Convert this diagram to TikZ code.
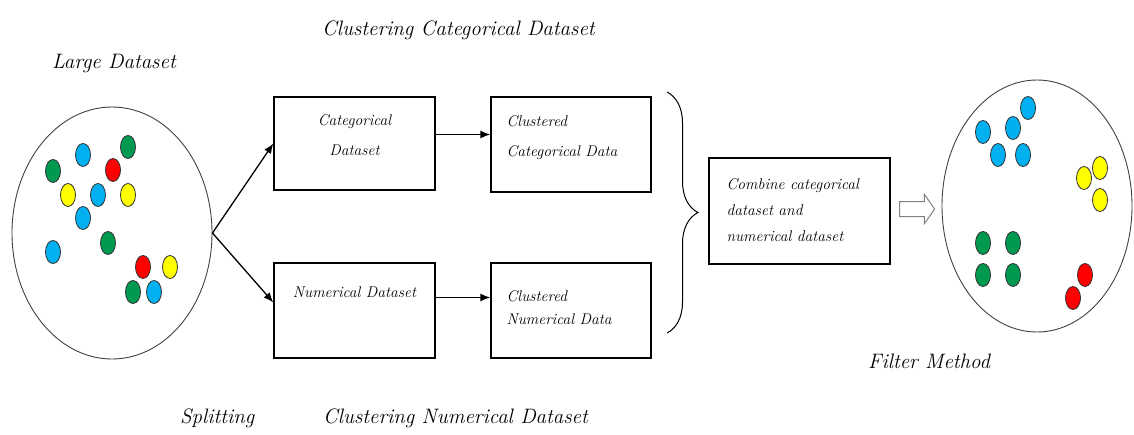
\documentclass[tikz,border=0pt]{standalone}
\usepackage{tikz}
\usetikzlibrary{positioning,shapes.geometric,shapes.arrows,arrows.meta,decorations.pathreplacing}
\definecolor{dot blue}{rgb}{0.0, 0.6902, 0.9412}
\definecolor{dot green}{rgb}{0.0, 0.6, 0.3137}
\definecolor{dot red}{rgb}{1.0, 0.0, 0.0}
\definecolor{dot yellow}{rgb}{1.0, 1.0, 0.0}
\definecolor{rim gray}{rgb}{0.25, 0.25, 0.25}
\tikzset{
  heading/.style = {font=\fontsize{20.9}{25}\selectfont\itshape, anchor=base west, inner sep=0},
  boxtext/.style = {font=\fontsize{15.5}{30}\selectfont\itshape, inner sep=0},
  panel/.style = {draw, line width=1.3pt, minimum width=161pt, minimum height=95pt, inner sep=0},
  pool/.style = {ellipse, draw=rim gray, line width=0.9pt, inner sep=0},
  dot/.style = {draw=black!80, line width=0.8pt},
  flow/.style = {-{Latex[length=10pt, width=8pt]}, line width=1.3pt},
}
\begin{document}
\begin{tikzpicture}[x=1pt, y=-1pt]
			\useasboundingbox (0,0) rectangle (1134,434);
			% large dataset
			\node[pool, minimum width=200pt, minimum height=252pt] (big) at (112,233) {};
			\foreach \x/\y/\c in {83/155/dot blue, 128/147/dot green, 53/171/dot green,
					113/170/dot red, 68/195/dot yellow, 98/195/dot blue, 128/195/dot yellow,
					83/218/dot blue, 53/252/dot blue, 108/243/dot green, 143/267/dot red,
					170/267/dot yellow, 133/292/dot green, 154/292/dot blue}
				\draw[dot, fill=\c] (\x,\y) ellipse (7.5 and 11.5);
			% clustering boxes
			\node[panel, minimum height=93pt] (catset) at (354.5,143.5) {};
			\node[panel, minimum width=160pt] (clcat) at (571,144.5) {};
			\node[panel] (numset) at (354.5,310.5) {};
			\node[panel, minimum width=160pt] (clnum) at (571,310.5) {};
			\node[boxtext, align=center, below=18pt of catset.north] (cattxt) {Categorical\\Dataset};
			\node[boxtext, align=left, anchor=north west] (clcattxt)
				at ([xshift=16pt, yshift=-19pt]clcat.north west) {Clustered\\Categorical Data};
			\node[boxtext, below=24pt of numset.north] (numtxt) {Numerical Dataset};
			\node[boxtext, font=\fontsize{15.5}{23}\selectfont\itshape, align=left, anchor=north west] (clnumtxt)
				at ([xshift=16pt, yshift=-28pt]clnum.north west) {Clustered\\Numerical Data};
			% arrows
			\draw[flow] (big.east) -- (catset.west);
			\draw[flow] (big.east) -- ([yshift=8pt]numset.west);
			\draw[flow] ([yshift=9pt]catset.east) -- ([yshift=9pt]catset.east -| clcat.west);
			\draw[flow] ([yshift=13pt]numset.east) -- ([yshift=13pt]numset.east -| clnum.west);
			% combine
			\coordinate (bracetop) at (667,92);
			\coordinate (bracebot) at (667,333);
			\draw[line width=1pt, decorate, decoration={brace, amplitude=31pt}] (bracetop) -- (bracebot);
			\node[panel, minimum width=181pt, minimum height=106pt] (comb) at (799.5,211) {};
			\node[boxtext, font=\fontsize{15.5}{26}\selectfont\itshape, align=left, anchor=north west] (combtxt)
				at ([xshift=18pt, yshift=-21pt]comb.north west) {Combine categorical\\dataset and\\numerical dataset};
			\node[single arrow, draw=gray, fill=white, line width=1pt, inner xsep=0pt, inner ysep=7pt,
				single arrow head extend=7pt, single arrow tip angle=110, minimum height=35pt] (toresult) at (914.5,209) {};
			% filtered result
			\node[pool, minimum width=190pt, minimum height=252pt] (filtered) at (1037,206) {};
			\foreach \x/\y/\c in {983/132/dot blue, 1013/128/dot blue, 1028/108/dot blue,
					998/155/dot blue, 1023/155/dot blue, 1084/178/dot yellow, 1100/168/dot yellow,
					1100/200/dot yellow, 983/243/dot green, 1013/243/dot green, 983/275/dot green,
					1013/275/dot green, 1085/275/dot red, 1073/298/dot red}
				\draw[dot, fill=\c] (\x,\y) ellipse (7.5 and 11.5);
			% headings
			\node[heading] (largelbl) at (52,68) {Large Dataset};
			\node[heading] (catlbl) at (322,35) {Clustering Categorical Dataset};
			\node[heading] (splitlbl) at (180,423) {Splitting};
			\node[heading] (numlbl) at (323,423) {Clustering Numerical Dataset};
			\node[heading] (filterlbl) at (868,368) {Filter Method};
		\end{tikzpicture}
\end{document}
